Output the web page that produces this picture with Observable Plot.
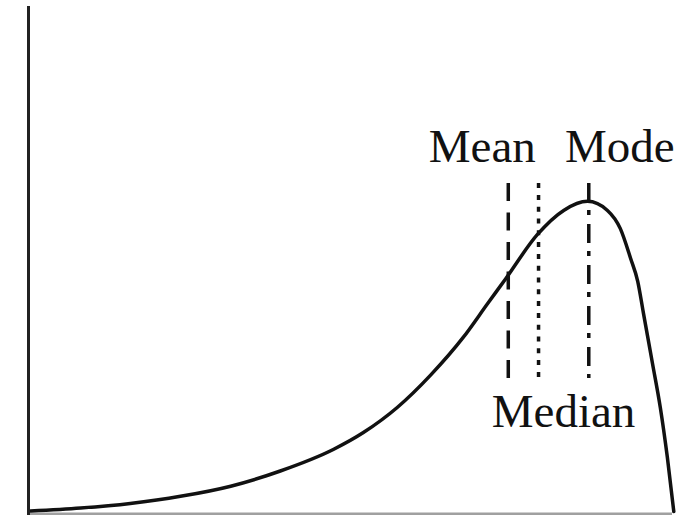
<!DOCTYPE html>
<html>
<head>
<meta charset="utf-8">
<script src="https://cdn.jsdelivr.net/npm/d3@7"></script>
<script src="https://cdn.jsdelivr.net/npm/@observablehq/plot@0.6"></script>
<style>
  html, body { margin: 0; padding: 0; background: #fff; }
  #chart svg { display: block; }
</style>
</head>
<body>
<div id="chart"></div>
<script>
// Left-skewed density curve (relative units)
const curveX = [0.003, 0.081, 0.158, 0.236, 0.314, 0.391, 0.474, 0.520, 0.573,
                0.624, 0.675, 0.713, 0.741, 0.790, 0.831, 0.868, 0.899, 0.919, 0.935,
                0.946, 0.955, 0.969, 0.981, 0.992, 1.002];
const curveY = [0.003, 0.009, 0.018, 0.032, 0.052, 0.082, 0.125, 0.158, 0.208,
                0.271, 0.346, 0.413, 0.462, 0.549, 0.597, 0.615, 0.597, 0.561, 0.502,
                0.457, 0.393, 0.294, 0.208, 0.109, 0.002];

// Measures of central tendency
const statNames = ["Mean", "Median", "Mode"];
const statX = [0.745, 0.792, 0.870];
const statTop = 0.650;
const statBottom = 0.265;

const curve = curveX.map((x, i) => ({x, y: curveY[i]}));
const stats = statNames.map((name, i) => ({name, x: statX[i]}));

// Line style and label placement for each statistic
const style = {
  Mean:   {dash: "18,11.5",  dx: -26, above: true},
  Median: {dash: "5,6.8",    dx: 25,  above: false},
  Mode:   {dash: "19,8,5,9", dx: 31,  above: true}
};

const ink = "#111";
const font = "'Liberation Serif', 'DejaVu Serif', serif";

const chart = Plot.plot({
  width: 692,
  height: 515,
  marginLeft: 28,
  marginRight: 20,
  marginTop: 6,
  marginBottom: 3,
  x: {domain: [0, 1], axis: null},
  y: {domain: [0, 1], axis: null},
  marks: [
    // baseline
    Plot.ruleY([0], {stroke: "#a0a0a0", strokeWidth: 3, dy: 1.5}),
    // density curve
    Plot.line(curve, {x: "x", y: "y", curve: "monotone-x", stroke: ink, strokeWidth: 3.5}),
    // statistic markers, each with its own dash pattern
    ...stats.map(s => Plot.ruleX([s], {
      x: "x", y1: statTop, y2: statBottom,
      stroke: ink, strokeWidth: 3.5, strokeDasharray: style[s.name].dash
    })),
    // vertical axis line
    Plot.ruleX([0], {stroke: "#222", strokeWidth: 3, insetBottom: -3}),
    // labels
    ...stats.map(s => Plot.text([s], {
      x: "x",
      y: style[s.name].above ? 0.692 : 0.168,
      text: "name",
      dx: style[s.name].dx,
      lineAnchor: "bottom",
      fontSize: 47,
      fontFamily: font,
      fill: ink
    }))
  ]
});

document.getElementById("chart").append(chart);
</script>
</body>
</html>
